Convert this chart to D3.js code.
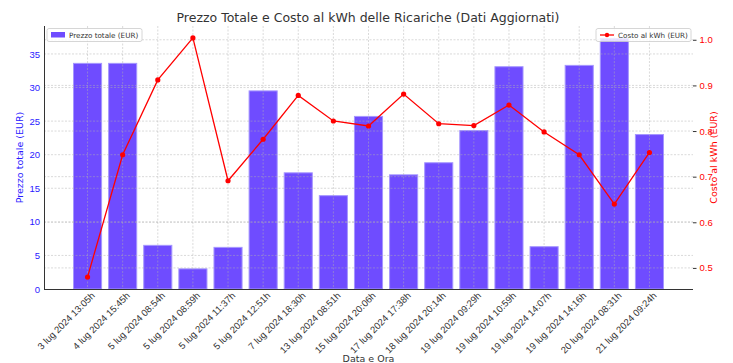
<!DOCTYPE html>
<html>
<head>
<meta charset="utf-8">
<script src="https://cdn.jsdelivr.net/npm/d3@7"></script>
<style>
  body { margin: 0; background: #fff; }
  svg { font-family: "DejaVu Sans", sans-serif; }
</style>
</head>
<body>
<svg id="chart" width="733" height="363"></svg>
<script>
// data
var labels = ["3 lug 2024 13:05h", "4 lug 2024 15:45h", "5 lug 2024 08:54h", "5 lug 2024 08:59h",
  "5 lug 2024 11:37h", "5 lug 2024 12:51h", "7 lug 2024 18:30h", "13 lug 2024 08:51h",
  "15 lug 2024 20:06h", "17 lug 2024 17:38h", "18 lug 2024 20:14h", "19 lug 2024 09:29h",
  "19 lug 2024 10:59h", "19 lug 2024 14:07h", "19 lug 2024 14:16h", "20 lug 2024 08:31h",
  "21 lug 2024 09:24h"];
var prezzo = [33.6, 33.6, 6.5, 3.0, 6.2, 29.5, 17.3, 13.9, 25.7, 17.0, 18.8, 23.6, 33.1, 6.3, 33.3, 37.3, 23.0];
var costo = [0.480, 0.748, 0.912, 1.004, 0.691, 0.782, 0.878, 0.822, 0.811, 0.881, 0.816, 0.812, 0.857, 0.798, 0.748, 0.640, 0.753];
var leftTicks = [0, 5, 10, 15, 20, 25, 30, 35];
var rightTicks = [0.5, 0.6, 0.7, 0.8, 0.9, 1.0];

var svg = d3.select("#chart");
var m = {left: 44, right: 40, top: 26, bottom: 74};
var W = 733, H = 363;
var pw = W - m.left - m.right, ph = H - m.top - m.bottom;

var barColor = "#6f4cff", lineColor = "#ff0000", leftTxt = "#2a1aff";

var n = labels.length;
// matplotlib-like 5% margins
var x = d3.scaleLinear().domain([-1.24, n - 1 + 1.24]).range([m.left, m.left + pw]);
var yL = d3.scaleLinear().domain([0, d3.max(prezzo) * 1.05]).range([m.top + ph, m.top]);
var cmin = d3.min(costo), cmax = d3.max(costo), cpad = (cmax - cmin) * 0.05;
var yR = d3.scaleLinear().domain([cmin - cpad, cmax + cpad]).range([m.top + ph, m.top]);

var bw = x(0.4) - x(-0.4);

// bars
svg.append("g").selectAll("rect").data(prezzo).enter().append("rect")
  .attr("x", function (d, i) { return x(i) - bw / 2; })
  .attr("y", function (d) { return yL(d); })
  .attr("width", bw)
  .attr("height", function (d) { return yL(0) - yL(d); })
  .attr("fill", barColor)
  .attr("stroke", "#a596ff")
  .attr("stroke-width", 1);

// grids (on top of bars)
var grid = svg.append("g").attr("stroke", "#b0b0b0").attr("stroke-opacity", 0.6)
  .attr("stroke-width", 0.8).attr("stroke-dasharray", "2,1.5");
grid.selectAll("line.v").data(d3.range(n)).enter().append("line")
  .attr("x1", function (d) { return x(d); }).attr("x2", function (d) { return x(d); })
  .attr("y1", m.top).attr("y2", m.top + ph);
grid.selectAll("line.hl").data(leftTicks.slice(1)).enter().append("line")
  .attr("x1", m.left).attr("x2", m.left + pw)
  .attr("y1", function (d) { return yL(d); }).attr("y2", function (d) { return yL(d); });
grid.selectAll("line.hr").data(rightTicks).enter().append("line")
  .attr("x1", m.left).attr("x2", m.left + pw)
  .attr("y1", function (d) { return yR(d); }).attr("y2", function (d) { return yR(d); });

// line
var line = d3.line().x(function (d, i) { return x(i); }).y(function (d) { return yR(d); });
svg.append("path").datum(costo).attr("d", line)
  .attr("fill", "none").attr("stroke", lineColor).attr("stroke-width", 1.3);
svg.append("g").selectAll("circle").data(costo).enter().append("circle")
  .attr("cx", function (d, i) { return x(i); }).attr("cy", function (d) { return yR(d); })
  .attr("r", 2.6).attr("fill", lineColor);

// axes
var xAxis = svg.append("g").attr("transform", "translate(0," + (m.top + ph) + ")")
  .call(d3.axisBottom(x).tickValues(d3.range(n)).tickFormat(function (i) { return labels[i]; }).tickSize(0).tickSizeOuter(0));
xAxis.select(".domain").attr("stroke", "#333").attr("stroke-width", 1).attr("d", "M" + m.left + ",0.5H" + (m.left + pw));
xAxis.selectAll("text")
  .attr("font-size", 9.5).attr("fill", "#333")
  .attr("text-anchor", "end")
  .attr("transform", "translate(4,4) rotate(-45)")
  .attr("dy", "0.5em").attr("y", 0);

var yAxisL = svg.append("g").attr("transform", "translate(" + m.left + ",0)")
  .call(d3.axisLeft(yL).tickValues(leftTicks).tickSize(0).tickPadding(4).tickSizeOuter(0));
yAxisL.select(".domain").attr("stroke", "#333").attr("d", "M0.5," + m.top + "V" + (m.top + ph));
yAxisL.selectAll("text").attr("font-size", 9.5).attr("fill", leftTxt);

var yAxisR = svg.append("g").attr("transform", "translate(" + (m.left + pw) + ",0)")
  .call(d3.axisRight(yR).tickValues(rightTicks).tickFormat(d3.format(".1f")).tickSize(3.5).tickPadding(3).tickSizeOuter(0));
yAxisR.select(".domain").remove();
yAxisR.selectAll("line").attr("stroke", "#333");
yAxisR.selectAll("text").attr("font-size", 9.5).attr("fill", lineColor);

// title and labels
svg.append("text").attr("x", 368).attr("y", 22).attr("text-anchor", "middle")
  .attr("font-size", 12.5).attr("fill", "#333")
  .text("Prezzo Totale e Costo al kWh delle Ricariche (Dati Aggiornati)");
svg.append("text").attr("transform", "translate(22.5," + (m.top + ph / 2) + ") rotate(-90)")
  .attr("text-anchor", "middle").attr("font-size", 9.5).attr("fill", leftTxt)
  .text("Prezzo totale (EUR)");
svg.append("text").attr("transform", "translate(716.5," + (m.top + ph / 2) + ") rotate(-90)")
  .attr("text-anchor", "middle").attr("font-size", 9.5).attr("fill", lineColor)
  .text("Costo al kWh (EUR)");
svg.append("text").attr("x", m.left + pw / 2).attr("y", 362).attr("text-anchor", "middle")
  .attr("font-size", 9.5).attr("fill", "#333").text("Data e Ora");

// legends
function legend(x0, y0, w, kind, txt) {
  var g = svg.append("g").attr("transform", "translate(" + x0 + "," + y0 + ")");
  g.append("rect").attr("width", w).attr("height", 13).attr("rx", 2)
    .attr("fill", "#fff").attr("fill-opacity", 0.8).attr("stroke", "#ccc").attr("stroke-width", 0.8);
  if (kind === "bar") {
    g.append("rect").attr("x", 4).attr("y", 3.5).attr("width", 14).attr("height", 5.5).attr("fill", barColor);
  } else {
    g.append("line").attr("x1", 4).attr("x2", 18).attr("y1", 6.5).attr("y2", 6.5)
      .attr("stroke", lineColor).attr("stroke-width", 1.3);
    g.append("circle").attr("cx", 11).attr("cy", 6.5).attr("r", 2.2).attr("fill", lineColor);
  }
  g.append("text").attr("x", 22).attr("y", 9.5).attr("font-size", 7.2).attr("fill", "#333").text(txt);
}
legend(47, 28.5, 95, "bar", "Prezzo totale (EUR)");
legend(596, 28.5, 95, "line", "Costo al kWh (EUR)");
</script>
</body>
</html>
